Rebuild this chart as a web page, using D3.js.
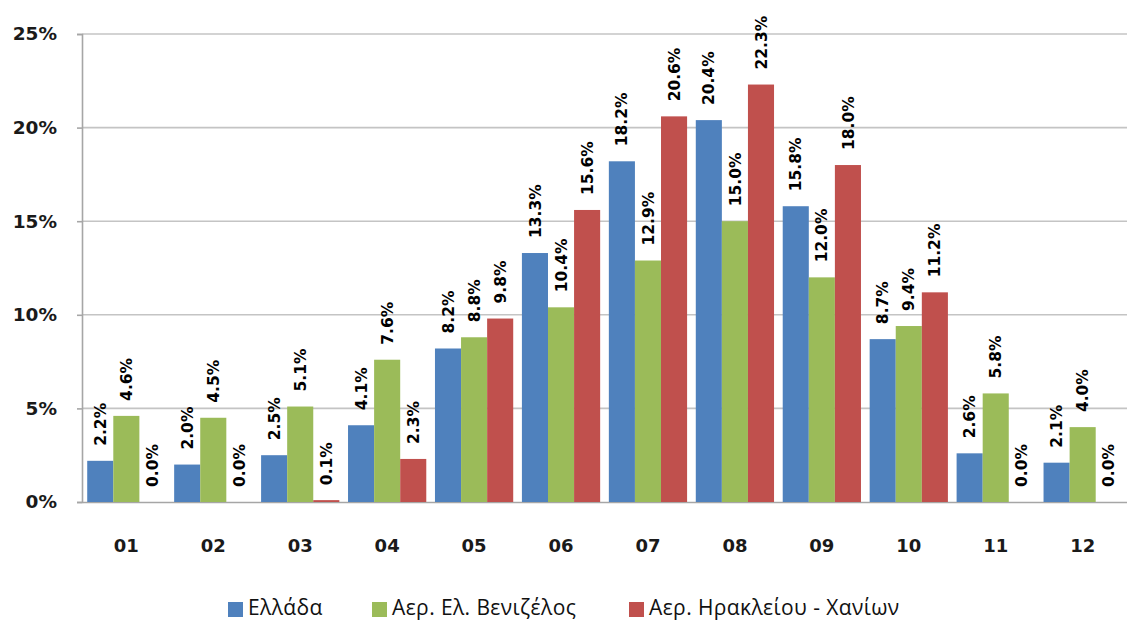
<!DOCTYPE html>
<html>
<head>
<meta charset="utf-8">
<script src="https://cdn.jsdelivr.net/npm/d3@7"></script>
<style>
  html, body { margin: 0; padding: 0; background: #fff; }
  svg { display: block; }
</style>
</head>
<body>
<svg id="chart" width="1127" height="622"></svg>
<script>
const categories = ["01","02","03","04","05","06","07","08","09","10","11","12"];
const seriesNames = ["Ελλάδα", "Αερ. Ελ. Βενιζέλος", "Αερ. Ηρακλείου - Χανίων"];
const greece   = [2.2, 2.0, 2.5, 4.1, 8.2, 13.3, 18.2, 20.4, 15.8, 8.7, 2.6, 2.1];
const athens   = [4.6, 4.5, 5.1, 7.6, 8.8, 10.4, 12.9, 15.0, 12.0, 9.4, 5.8, 4.0];
const heraklion = [0.0, 0.0, 0.1, 2.3, 9.8, 15.6, 20.6, 22.3, 18.0, 11.2, 0.0, 0.0];
const yTicks = [0, 5, 10, 15, 20, 25];
const colors = ["#4F81BD", "#9BBB59", "#C0504D"];

const seriesValues = [greece, athens, heraklion];
const svg = d3.select("#chart");

const plotLeft = 82, plotRight = 1127, plotTop = 34, plotBottom = 502;

const x = d3.scaleBand().domain(categories).range([plotLeft, plotRight]).paddingInner(0.1).paddingOuter(0.06);
const xs = d3.scaleBand().domain(d3.range(3)).range([0, x.bandwidth()]);
const y = d3.scaleLinear().domain([0, 25]).range([plotBottom, plotTop]);

// gridlines
svg.append("g").selectAll("line").data(yTicks.filter(t => t > 0)).join("line")
  .attr("x1", plotLeft).attr("x2", plotRight)
  .attr("y1", d => y(d)).attr("y2", d => y(d))
  .attr("stroke", "#C4C4C4").attr("stroke-width", 1.6);

// y axis
const yAxis = d3.axisLeft(y).tickValues(yTicks).tickFormat(d => d + "%").tickSize(5).tickPadding(20);
const gy = svg.append("g").attr("transform", `translate(${plotLeft},0)`).call(yAxis);
gy.select(".domain").attr("stroke", "#A6A6A6").attr("stroke-width", 1.6);
gy.selectAll(".tick line").attr("stroke", "#A6A6A6").attr("stroke-width", 1.6);
gy.selectAll(".tick text")
  .attr("font-family", "'DejaVu Sans', Verdana, sans-serif")
  .attr("font-weight", "bold").attr("font-size", "18.5px").attr("fill", "#1a1a1a");

// x axis
const xAxis = d3.axisBottom(x).tickSize(0).tickPadding(37);
const gx = svg.append("g").attr("transform", `translate(0,${plotBottom})`).call(xAxis);
gx.select(".domain").attr("stroke", "#A6A6A6").attr("stroke-width", 1.6);
gx.selectAll(".tick text")
  .attr("font-family", "'DejaVu Sans', Verdana, sans-serif")
  .attr("font-weight", "bold").attr("font-size", "18px").attr("fill", "#1a1a1a");

// bars
const flat = [];
categories.forEach((c, i) => {
  seriesValues.forEach((vals, s) => flat.push({ c, s, v: vals[i] }));
});

svg.append("g").selectAll("rect").data(flat).join("rect")
  .attr("x", d => x(d.c) + xs(d.s))
  .attr("width", xs.bandwidth())
  .attr("y", d => y(d.v))
  .attr("height", d => plotBottom - y(d.v))
  .attr("fill", d => colors[d.s]);

// data labels
svg.append("g").selectAll("text").data(flat).join("text")
  .attr("transform", d => `translate(${x(d.c) + xs(d.s) + xs.bandwidth() / 2},${y(d.v) - 15}) rotate(-90)`)
  .attr("dy", "0.36em")
  .attr("text-anchor", "start")
  .attr("font-family", "'DejaVu Sans', Verdana, sans-serif")
  .attr("font-weight", "bold").attr("font-size", "15.5px").attr("fill", "#000")
  .text(d => d.v.toFixed(1) + "%");

// legend
const legendX = [228, 372, 629];
const lg = svg.append("g");
seriesNames.forEach((name, i) => {
  const g = lg.append("g").attr("transform", `translate(${legendX[i]},0)`);
  g.append("rect").attr("x", 0).attr("y", 602).attr("width", 15).attr("height", 15).attr("fill", colors[i]);
  g.append("text").attr("x", 20).attr("y", 615)
    .attr("font-family", "'Open Sans', 'Noto Sans', sans-serif")
    .attr("font-size", "21px").attr("letter-spacing", "0.4px").attr("fill", "#111")
    .text(name);
});
</script>
</body>
</html>
